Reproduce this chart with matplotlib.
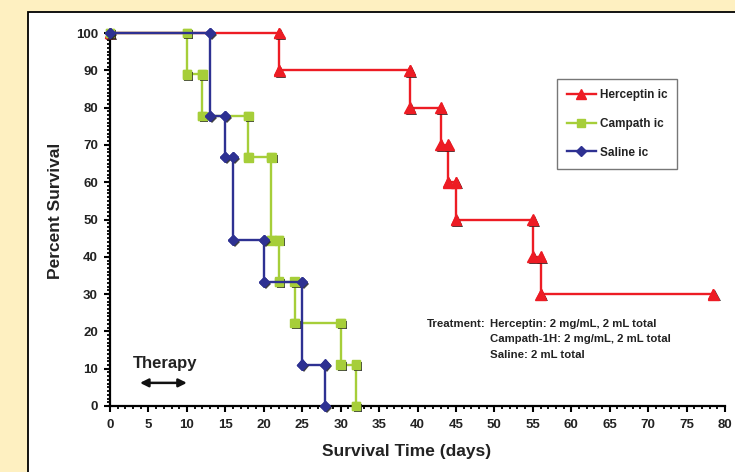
import matplotlib
matplotlib.use("Agg")
import matplotlib.pyplot as plt
import matplotlib.patheffects as pe
from matplotlib.patches import Rectangle
from matplotlib.ticker import MultipleLocator

plt.rcParams['font.family'] = ['Liberation Sans', 'DejaVu Sans']
plt.rcParams['font.weight'] = 'bold'

# Data (vertices of Kaplan-Meier step curves)
herceptin_x = [0, 22, 22, 39, 39, 43, 43, 44, 44, 45, 45, 55, 55, 56, 56, 78.5]
herceptin_y = [100, 100, 90, 90, 80, 80, 70, 70, 60, 60, 50, 50, 40, 40, 30, 30]

campath_x = [0, 10, 10, 12, 12, 18, 18, 21, 21, 22, 22, 24, 24, 30, 30, 32, 32]
campath_y = [100, 100, 88.9, 88.9, 77.8, 77.8, 66.7, 66.7, 44.4, 44.4, 33.3, 33.3, 22.2, 22.2, 11.1, 11.1, 0]

saline_x = [0, 13, 13, 15, 15, 16, 16, 20, 20, 25, 25, 28, 28]
saline_y = [100, 100, 77.8, 77.8, 66.7, 66.7, 44.4, 44.4, 33.3, 33.3, 11.1, 11.1, 0]

series_labels = ['Herceptin ic', 'Campath ic', 'Saline ic']
x_ticks = list(range(0, 81, 5))
y_ticks = list(range(0, 101, 10))

RED = '#ED1C24'
GREEN = '#A6CE39'
BLUE = '#2E3192'

fig = plt.figure(figsize=(7.35, 4.72), dpi=100)
fig.patch.set_facecolor('#FEF0C1')

# white panel
panel = Rectangle((28 / 735, -0.05), 1.1, 1 - 12 / 472 + 0.05, transform=fig.transFigure,
                  facecolor='white', edgecolor='black', linewidth=1.3, zorder=-5)
fig.patches.append(panel)

ax = fig.add_axes([110 / 735, 1 - 406 / 472, 615 / 735, 373 / 472])
ax.set_facecolor('none')
ax.set_zorder(2)

shadow = [pe.SimplePatchShadow(offset=(1.3, -1.3), shadow_rgbFace='#222222', alpha=0.85), pe.Normal()]

specs = [
    (herceptin_x, herceptin_y, RED, '^', 7.8, series_labels[0], 3),
    (campath_x, campath_y, GREEN, 's', 6.2, series_labels[1], 4),
    (saline_x, saline_y, BLUE, 'D', 5.2, series_labels[2], 5),
]
handles = []
for xs, ys, c, m, ms, lab, z in specs:
    h, = ax.plot(xs, ys, color=c, lw=1.7, marker=m, markersize=ms, markerfacecolor=c,
                 markeredgecolor=c, label=lab, zorder=z, clip_on=False)
    ax.plot(xs, ys, linestyle='none', marker=m, markersize=ms, markerfacecolor=c,
            markeredgecolor=c, zorder=z + 0.5, clip_on=False, path_effects=shadow)
    handles.append(h)

ax.set_xlim(0, 80)
ax.set_ylim(0, 100)
ax.set_xticks(x_ticks)
ax.set_yticks(y_ticks)
ax.xaxis.set_minor_locator(MultipleLocator(1))
ax.yaxis.set_minor_locator(MultipleLocator(1))
for s in ['top', 'right']:
    ax.spines[s].set_visible(False)
for s in ['left', 'bottom']:
    ax.spines[s].set_linewidth(1.6)
ax.tick_params(axis='both', which='major', direction='out', length=4.2, width=1.5, labelsize=9.5)
ax.tick_params(axis='both', which='minor', direction='out', length=2.3, width=1.3)
ax.tick_params(axis='y', which='major', pad=4.5)
ax.tick_params(axis='x', which='major', pad=5.0)
for lbl in ax.get_xticklabels() + ax.get_yticklabels():
    lbl.set_fontweight('bold')
    lbl.set_color('#222222')

ax.set_xlabel('Survival Time (days)', fontsize=12.5, fontweight='bold', color='#222222')
ax.set_ylabel('Percent Survival', fontsize=12.5, fontweight='bold', color='#222222')
ax.xaxis.set_label_coords(0.483, -0.121)
ax.xaxis.label.set_va('center')
ax.yaxis.set_label_coords(-0.0894, 0.523)
ax.yaxis.label.set_va('center')

leg = ax.legend(handles=handles, loc='upper left', bbox_to_anchor=(557 / 735, 1 - 79 / 472),
                bbox_transform=fig.transFigure, prop={'weight': 'bold', 'size': 8.5},
                frameon=True, fancybox=False, edgecolor='#555555', borderpad=0.85,
                labelspacing=1.42, handlelength=2.45, handletextpad=0.3, borderaxespad=0)
leg.get_frame().set_linewidth(1.0)
for t in leg.get_texts():
    t.set_color('#222222')

# annotations
ax.text(41.2, 22.0, 'Treatment:', fontsize=8.2, fontweight='bold', va='center', ha='left', color='#222222')
ax.text(49.4, 22.0, 'Herceptin: 2 mg/mL, 2 mL total', fontsize=8.2, fontweight='bold', va='center', ha='left', color='#222222')
ax.text(49.4, 18.0, 'Campath-1H: 2 mg/mL, 2 mL total', fontsize=8.2, fontweight='bold', va='center', ha='left', color='#222222')
ax.text(49.4, 13.7, 'Saline: 2 mL total', fontsize=8.2, fontweight='bold', va='center', ha='left', color='#222222')

ax.text(3.0, 11.5, 'Therapy', fontsize=12, fontweight='bold', va='center', ha='left', color='#222222')
ax.annotate('', xy=(10, 6.2), xytext=(3.9, 6.2),
            arrowprops=dict(arrowstyle='<|-|>', color='#111111', lw=1.8,
                            mutation_scale=12, shrinkA=0, shrinkB=0))

fig.savefig('out.png', dpi=100, facecolor=fig.get_facecolor())
